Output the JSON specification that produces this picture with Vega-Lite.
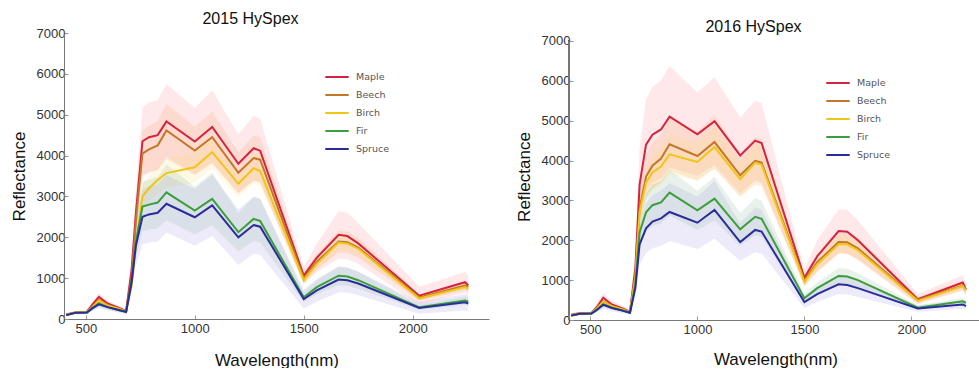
{
  "$schema": "https://vega.github.io/schema/vega-lite/v6.json",
  "padding": {"left": 10, "top": 11, "right": 0, "bottom": 0},
  "background": "white",
  "datasets": {
    "spectra": [
      {"year":2015,"species":"Maple","wavelength":410,"mean":110,"low":89,"high":131},
      {"year":2015,"species":"Maple","wavelength":450,"mean":160,"low":130,"high":190},
      {"year":2015,"species":"Maple","wavelength":505,"mean":180,"low":146,"high":214},
      {"year":2015,"species":"Maple","wavelength":530,"mean":350,"low":283,"high":417},
      {"year":2015,"species":"Maple","wavelength":560,"mean":540,"low":437,"high":643},
      {"year":2015,"species":"Maple","wavelength":600,"mean":380,"low":308,"high":452},
      {"year":2015,"species":"Maple","wavelength":650,"mean":280,"low":227,"high":333},
      {"year":2015,"species":"Maple","wavelength":685,"mean":200,"low":162,"high":238},
      {"year":2015,"species":"Maple","wavelength":710,"mean":1200,"low":972,"high":1428},
      {"year":2015,"species":"Maple","wavelength":730,"mean":2600,"low":2106,"high":3094},
      {"year":2015,"species":"Maple","wavelength":760,"mean":4350,"low":3523,"high":5177},
      {"year":2015,"species":"Maple","wavelength":790,"mean":4450,"low":3604,"high":5296},
      {"year":2015,"species":"Maple","wavelength":830,"mean":4500,"low":3645,"high":5355},
      {"year":2015,"species":"Maple","wavelength":870,"mean":4835,"low":3916,"high":5754},
      {"year":2015,"species":"Maple","wavelength":1000,"mean":4345,"low":3519,"high":5171},
      {"year":2015,"species":"Maple","wavelength":1080,"mean":4700,"low":3807,"high":5593},
      {"year":2015,"species":"Maple","wavelength":1200,"mean":3800,"low":3078,"high":4522},
      {"year":2015,"species":"Maple","wavelength":1270,"mean":4180,"low":3386,"high":4974},
      {"year":2015,"species":"Maple","wavelength":1300,"mean":4120,"low":3337,"high":4903},
      {"year":2015,"species":"Maple","wavelength":1500,"mean":1060,"low":860,"high":1260},
      {"year":2015,"species":"Maple","wavelength":1560,"mean":1500,"low":1150,"high":1850},
      {"year":2015,"species":"Maple","wavelength":1660,"mean":2060,"low":1480,"high":2640},
      {"year":2015,"species":"Maple","wavelength":1700,"mean":2030,"low":1460,"high":2600},
      {"year":2015,"species":"Maple","wavelength":1750,"mean":1850,"low":1350,"high":2350},
      {"year":2015,"species":"Maple","wavelength":2030,"mean":570,"low":350,"high":790},
      {"year":2015,"species":"Maple","wavelength":2240,"mean":900,"low":650,"high":1150},
      {"year":2015,"species":"Maple","wavelength":2255,"mean":820,"low":580,"high":1060},

      {"year":2015,"species":"Beech","wavelength":410,"mean":100,"low":86,"high":114},
      {"year":2015,"species":"Beech","wavelength":450,"mean":155,"low":133,"high":177},
      {"year":2015,"species":"Beech","wavelength":505,"mean":170,"low":146,"high":194},
      {"year":2015,"species":"Beech","wavelength":530,"mean":300,"low":258,"high":342},
      {"year":2015,"species":"Beech","wavelength":560,"mean":470,"low":404,"high":536},
      {"year":2015,"species":"Beech","wavelength":600,"mean":340,"low":292,"high":388},
      {"year":2015,"species":"Beech","wavelength":650,"mean":260,"low":224,"high":296},
      {"year":2015,"species":"Beech","wavelength":685,"mean":190,"low":163,"high":217},
      {"year":2015,"species":"Beech","wavelength":710,"mean":1000,"low":860,"high":1140},
      {"year":2015,"species":"Beech","wavelength":730,"mean":2400,"low":2064,"high":2736},
      {"year":2015,"species":"Beech","wavelength":760,"mean":4050,"low":3483,"high":4617},
      {"year":2015,"species":"Beech","wavelength":790,"mean":4150,"low":3569,"high":4731},
      {"year":2015,"species":"Beech","wavelength":830,"mean":4250,"low":3655,"high":4845},
      {"year":2015,"species":"Beech","wavelength":870,"mean":4615,"low":3969,"high":5261},
      {"year":2015,"species":"Beech","wavelength":1000,"mean":4125,"low":3547,"high":4703},
      {"year":2015,"species":"Beech","wavelength":1080,"mean":4450,"low":3827,"high":5073},
      {"year":2015,"species":"Beech","wavelength":1200,"mean":3580,"low":3079,"high":4081},
      {"year":2015,"species":"Beech","wavelength":1270,"mean":3940,"low":3388,"high":4492},
      {"year":2015,"species":"Beech","wavelength":1300,"mean":3900,"low":3354,"high":4446},
      {"year":2015,"species":"Beech","wavelength":1500,"mean":1000,"low":860,"high":1140},
      {"year":2015,"species":"Beech","wavelength":1560,"mean":1400,"low":1204,"high":1596},
      {"year":2015,"species":"Beech","wavelength":1660,"mean":1895,"low":1630,"high":2160},
      {"year":2015,"species":"Beech","wavelength":1700,"mean":1880,"low":1617,"high":2143},
      {"year":2015,"species":"Beech","wavelength":1750,"mean":1750,"low":1505,"high":1995},
      {"year":2015,"species":"Beech","wavelength":2030,"mean":530,"low":456,"high":604},
      {"year":2015,"species":"Beech","wavelength":2240,"mean":820,"low":705,"high":935},
      {"year":2015,"species":"Beech","wavelength":2255,"mean":780,"low":671,"high":889},

      {"year":2015,"species":"Birch","wavelength":410,"mean":100,"low":90,"high":110},
      {"year":2015,"species":"Birch","wavelength":450,"mean":155,"low":139,"high":171},
      {"year":2015,"species":"Birch","wavelength":505,"mean":170,"low":153,"high":187},
      {"year":2015,"species":"Birch","wavelength":530,"mean":290,"low":261,"high":319},
      {"year":2015,"species":"Birch","wavelength":560,"mean":450,"low":405,"high":495},
      {"year":2015,"species":"Birch","wavelength":600,"mean":330,"low":297,"high":363},
      {"year":2015,"species":"Birch","wavelength":650,"mean":250,"low":225,"high":275},
      {"year":2015,"species":"Birch","wavelength":685,"mean":185,"low":166,"high":204},
      {"year":2015,"species":"Birch","wavelength":710,"mean":800,"low":720,"high":880},
      {"year":2015,"species":"Birch","wavelength":730,"mean":1800,"low":1620,"high":1980},
      {"year":2015,"species":"Birch","wavelength":760,"mean":3000,"low":2700,"high":3300},
      {"year":2015,"species":"Birch","wavelength":790,"mean":3200,"low":2880,"high":3520},
      {"year":2015,"species":"Birch","wavelength":830,"mean":3400,"low":3060,"high":3740},
      {"year":2015,"species":"Birch","wavelength":870,"mean":3570,"low":3213,"high":3927},
      {"year":2015,"species":"Birch","wavelength":1000,"mean":3715,"low":3343,"high":4087},
      {"year":2015,"species":"Birch","wavelength":1080,"mean":4085,"low":3676,"high":4494},
      {"year":2015,"species":"Birch","wavelength":1200,"mean":3310,"low":2979,"high":3641},
      {"year":2015,"species":"Birch","wavelength":1270,"mean":3690,"low":3321,"high":4059},
      {"year":2015,"species":"Birch","wavelength":1300,"mean":3620,"low":3258,"high":3982},
      {"year":2015,"species":"Birch","wavelength":1500,"mean":950,"low":855,"high":1045},
      {"year":2015,"species":"Birch","wavelength":1560,"mean":1350,"low":1215,"high":1485},
      {"year":2015,"species":"Birch","wavelength":1660,"mean":1870,"low":1683,"high":2057},
      {"year":2015,"species":"Birch","wavelength":1700,"mean":1850,"low":1665,"high":2035},
      {"year":2015,"species":"Birch","wavelength":1750,"mean":1720,"low":1548,"high":1892},
      {"year":2015,"species":"Birch","wavelength":2030,"mean":500,"low":450,"high":550},
      {"year":2015,"species":"Birch","wavelength":2240,"mean":780,"low":702,"high":858},
      {"year":2015,"species":"Birch","wavelength":2255,"mean":740,"low":666,"high":814},

      {"year":2015,"species":"Fir","wavelength":410,"mean":95,"low":74,"high":116},
      {"year":2015,"species":"Fir","wavelength":450,"mean":150,"low":117,"high":183},
      {"year":2015,"species":"Fir","wavelength":505,"mean":160,"low":125,"high":195},
      {"year":2015,"species":"Fir","wavelength":530,"mean":270,"low":211,"high":329},
      {"year":2015,"species":"Fir","wavelength":560,"mean":380,"low":296,"high":464},
      {"year":2015,"species":"Fir","wavelength":600,"mean":290,"low":226,"high":354},
      {"year":2015,"species":"Fir","wavelength":650,"mean":220,"low":172,"high":268},
      {"year":2015,"species":"Fir","wavelength":685,"mean":170,"low":133,"high":207},
      {"year":2015,"species":"Fir","wavelength":710,"mean":900,"low":702,"high":1098},
      {"year":2015,"species":"Fir","wavelength":730,"mean":1900,"low":1482,"high":2318},
      {"year":2015,"species":"Fir","wavelength":760,"mean":2750,"low":2145,"high":3355},
      {"year":2015,"species":"Fir","wavelength":790,"mean":2800,"low":2184,"high":3416},
      {"year":2015,"species":"Fir","wavelength":830,"mean":2850,"low":2223,"high":3477},
      {"year":2015,"species":"Fir","wavelength":870,"mean":3100,"low":2418,"high":3782},
      {"year":2015,"species":"Fir","wavelength":1000,"mean":2655,"low":2071,"high":3239},
      {"year":2015,"species":"Fir","wavelength":1080,"mean":2940,"low":2293,"high":3587},
      {"year":2015,"species":"Fir","wavelength":1200,"mean":2125,"low":1657,"high":2593},
      {"year":2015,"species":"Fir","wavelength":1270,"mean":2450,"low":1911,"high":2989},
      {"year":2015,"species":"Fir","wavelength":1300,"mean":2400,"low":1872,"high":2928},
      {"year":2015,"species":"Fir","wavelength":1500,"mean":530,"low":413,"high":647},
      {"year":2015,"species":"Fir","wavelength":1560,"mean":780,"low":608,"high":952},
      {"year":2015,"species":"Fir","wavelength":1660,"mean":1060,"low":827,"high":1293},
      {"year":2015,"species":"Fir","wavelength":1700,"mean":1040,"low":811,"high":1269},
      {"year":2015,"species":"Fir","wavelength":1750,"mean":950,"low":741,"high":1159},
      {"year":2015,"species":"Fir","wavelength":2030,"mean":285,"low":222,"high":348},
      {"year":2015,"species":"Fir","wavelength":2240,"mean":450,"low":351,"high":549},
      {"year":2015,"species":"Fir","wavelength":2255,"mean":430,"low":335,"high":525},

      {"year":2015,"species":"Spruce","wavelength":410,"mean":95,"low":69,"high":121},
      {"year":2015,"species":"Spruce","wavelength":450,"mean":150,"low":110,"high":190},
      {"year":2015,"species":"Spruce","wavelength":505,"mean":160,"low":117,"high":203},
      {"year":2015,"species":"Spruce","wavelength":530,"mean":260,"low":190,"high":330},
      {"year":2015,"species":"Spruce","wavelength":560,"mean":360,"low":263,"high":457},
      {"year":2015,"species":"Spruce","wavelength":600,"mean":290,"low":212,"high":368},
      {"year":2015,"species":"Spruce","wavelength":650,"mean":220,"low":161,"high":279},
      {"year":2015,"species":"Spruce","wavelength":685,"mean":175,"low":128,"high":222},
      {"year":2015,"species":"Spruce","wavelength":710,"mean":900,"low":657,"high":1143},
      {"year":2015,"species":"Spruce","wavelength":730,"mean":1800,"low":1314,"high":2286},
      {"year":2015,"species":"Spruce","wavelength":760,"mean":2500,"low":1825,"high":3175},
      {"year":2015,"species":"Spruce","wavelength":790,"mean":2560,"low":1869,"high":3251},
      {"year":2015,"species":"Spruce","wavelength":830,"mean":2600,"low":1898,"high":3302},
      {"year":2015,"species":"Spruce","wavelength":870,"mean":2820,"low":2120,"high":3520},
      {"year":2015,"species":"Spruce","wavelength":1000,"mean":2490,"low":1790,"high":3190},
      {"year":2015,"species":"Spruce","wavelength":1080,"mean":2780,"low":2030,"high":3530},
      {"year":2015,"species":"Spruce","wavelength":1200,"mean":2000,"low":1320,"high":2680},
      {"year":2015,"species":"Spruce","wavelength":1270,"mean":2300,"low":1600,"high":3000},
      {"year":2015,"species":"Spruce","wavelength":1300,"mean":2260,"low":1570,"high":2950},
      {"year":2015,"species":"Spruce","wavelength":1500,"mean":490,"low":260,"high":720},
      {"year":2015,"species":"Spruce","wavelength":1560,"mean":700,"low":420,"high":980},
      {"year":2015,"species":"Spruce","wavelength":1660,"mean":965,"low":655,"high":1275},
      {"year":2015,"species":"Spruce","wavelength":1700,"mean":950,"low":650,"high":1250},
      {"year":2015,"species":"Spruce","wavelength":1750,"mean":870,"low":580,"high":1160},
      {"year":2015,"species":"Spruce","wavelength":2030,"mean":270,"low":130,"high":410},
      {"year":2015,"species":"Spruce","wavelength":2240,"mean":410,"low":210,"high":610},
      {"year":2015,"species":"Spruce","wavelength":2255,"mean":380,"low":190,"high":570},

      {"year":2016,"species":"Maple","wavelength":410,"mean":130,"low":100,"high":160},
      {"year":2016,"species":"Maple","wavelength":450,"mean":170,"low":130,"high":210},
      {"year":2016,"species":"Maple","wavelength":505,"mean":175,"low":135,"high":215},
      {"year":2016,"species":"Maple","wavelength":530,"mean":320,"low":245,"high":395},
      {"year":2016,"species":"Maple","wavelength":560,"mean":560,"low":430,"high":690},
      {"year":2016,"species":"Maple","wavelength":600,"mean":390,"low":300,"high":480},
      {"year":2016,"species":"Maple","wavelength":650,"mean":290,"low":225,"high":355},
      {"year":2016,"species":"Maple","wavelength":685,"mean":210,"low":160,"high":260},
      {"year":2016,"species":"Maple","wavelength":710,"mean":1300,"low":1000,"high":1600},
      {"year":2016,"species":"Maple","wavelength":730,"mean":3400,"low":2500,"high":4300},
      {"year":2016,"species":"Maple","wavelength":760,"mean":4400,"low":3270,"high":5530},
      {"year":2016,"species":"Maple","wavelength":790,"mean":4650,"low":3450,"high":5850},
      {"year":2016,"species":"Maple","wavelength":830,"mean":4780,"low":3550,"high":6010},
      {"year":2016,"species":"Maple","wavelength":870,"mean":5100,"low":3830,"high":6370},
      {"year":2016,"species":"Maple","wavelength":1000,"mean":4660,"low":3610,"high":5710},
      {"year":2016,"species":"Maple","wavelength":1080,"mean":4990,"low":3890,"high":6090},
      {"year":2016,"species":"Maple","wavelength":1200,"mean":4130,"low":3180,"high":5080},
      {"year":2016,"species":"Maple","wavelength":1270,"mean":4500,"low":3500,"high":5500},
      {"year":2016,"species":"Maple","wavelength":1300,"mean":4440,"low":3440,"high":5440},
      {"year":2016,"species":"Maple","wavelength":1500,"mean":1060,"low":860,"high":1260},
      {"year":2016,"species":"Maple","wavelength":1560,"mean":1600,"low":1200,"high":2000},
      {"year":2016,"species":"Maple","wavelength":1660,"mean":2230,"low":1680,"high":2780},
      {"year":2016,"species":"Maple","wavelength":1700,"mean":2215,"low":1665,"high":2765},
      {"year":2016,"species":"Maple","wavelength":1750,"mean":2000,"low":1500,"high":2500},
      {"year":2016,"species":"Maple","wavelength":2030,"mean":520,"low":390,"high":650},
      {"year":2016,"species":"Maple","wavelength":2240,"mean":940,"low":760,"high":1120},
      {"year":2016,"species":"Maple","wavelength":2255,"mean":770,"low":610,"high":930},

      {"year":2016,"species":"Beech","wavelength":410,"mean":120,"low":102,"high":138},
      {"year":2016,"species":"Beech","wavelength":450,"mean":165,"low":140,"high":190},
      {"year":2016,"species":"Beech","wavelength":505,"mean":170,"low":144,"high":196},
      {"year":2016,"species":"Beech","wavelength":530,"mean":290,"low":246,"high":334},
      {"year":2016,"species":"Beech","wavelength":560,"mean":470,"low":400,"high":540},
      {"year":2016,"species":"Beech","wavelength":600,"mean":350,"low":297,"high":403},
      {"year":2016,"species":"Beech","wavelength":650,"mean":270,"low":230,"high":310},
      {"year":2016,"species":"Beech","wavelength":685,"mean":200,"low":170,"high":230},
      {"year":2016,"species":"Beech","wavelength":710,"mean":1100,"low":935,"high":1265},
      {"year":2016,"species":"Beech","wavelength":730,"mean":2800,"low":2380,"high":3220},
      {"year":2016,"species":"Beech","wavelength":760,"mean":3600,"low":3060,"high":4140},
      {"year":2016,"species":"Beech","wavelength":790,"mean":3870,"low":3290,"high":4450},
      {"year":2016,"species":"Beech","wavelength":830,"mean":4050,"low":3442,"high":4658},
      {"year":2016,"species":"Beech","wavelength":870,"mean":4410,"low":3748,"high":5072},
      {"year":2016,"species":"Beech","wavelength":1000,"mean":4115,"low":3498,"high":4732},
      {"year":2016,"species":"Beech","wavelength":1080,"mean":4465,"low":3795,"high":5135},
      {"year":2016,"species":"Beech","wavelength":1200,"mean":3630,"low":3085,"high":4175},
      {"year":2016,"species":"Beech","wavelength":1270,"mean":3990,"low":3391,"high":4589},
      {"year":2016,"species":"Beech","wavelength":1300,"mean":3950,"low":3357,"high":4543},
      {"year":2016,"species":"Beech","wavelength":1500,"mean":1000,"low":850,"high":1150},
      {"year":2016,"species":"Beech","wavelength":1560,"mean":1450,"low":1232,"high":1668},
      {"year":2016,"species":"Beech","wavelength":1660,"mean":1955,"low":1662,"high":2248},
      {"year":2016,"species":"Beech","wavelength":1700,"mean":1950,"low":1657,"high":2243},
      {"year":2016,"species":"Beech","wavelength":1750,"mean":1800,"low":1530,"high":2070},
      {"year":2016,"species":"Beech","wavelength":2030,"mean":500,"low":425,"high":575},
      {"year":2016,"species":"Beech","wavelength":2240,"mean":860,"low":731,"high":989},
      {"year":2016,"species":"Beech","wavelength":2255,"mean":770,"low":654,"high":886},

      {"year":2016,"species":"Birch","wavelength":410,"mean":120,"low":106,"high":134},
      {"year":2016,"species":"Birch","wavelength":450,"mean":165,"low":145,"high":185},
      {"year":2016,"species":"Birch","wavelength":505,"mean":170,"low":150,"high":190},
      {"year":2016,"species":"Birch","wavelength":530,"mean":285,"low":251,"high":319},
      {"year":2016,"species":"Birch","wavelength":560,"mean":460,"low":405,"high":515},
      {"year":2016,"species":"Birch","wavelength":600,"mean":345,"low":304,"high":386},
      {"year":2016,"species":"Birch","wavelength":650,"mean":265,"low":233,"high":297},
      {"year":2016,"species":"Birch","wavelength":685,"mean":195,"low":172,"high":218},
      {"year":2016,"species":"Birch","wavelength":710,"mean":1050,"low":924,"high":1176},
      {"year":2016,"species":"Birch","wavelength":730,"mean":2700,"low":2376,"high":3024},
      {"year":2016,"species":"Birch","wavelength":760,"mean":3450,"low":3036,"high":3864},
      {"year":2016,"species":"Birch","wavelength":790,"mean":3700,"low":3256,"high":4144},
      {"year":2016,"species":"Birch","wavelength":830,"mean":3850,"low":3388,"high":4312},
      {"year":2016,"species":"Birch","wavelength":870,"mean":4155,"low":3656,"high":4654},
      {"year":2016,"species":"Birch","wavelength":1000,"mean":3965,"low":3489,"high":4441},
      {"year":2016,"species":"Birch","wavelength":1080,"mean":4340,"low":3819,"high":4861},
      {"year":2016,"species":"Birch","wavelength":1200,"mean":3530,"low":3106,"high":3954},
      {"year":2016,"species":"Birch","wavelength":1270,"mean":3950,"low":3476,"high":4424},
      {"year":2016,"species":"Birch","wavelength":1300,"mean":3900,"low":3432,"high":4368},
      {"year":2016,"species":"Birch","wavelength":1500,"mean":950,"low":836,"high":1064},
      {"year":2016,"species":"Birch","wavelength":1560,"mean":1400,"low":1232,"high":1568},
      {"year":2016,"species":"Birch","wavelength":1660,"mean":1900,"low":1672,"high":2128},
      {"year":2016,"species":"Birch","wavelength":1700,"mean":1900,"low":1672,"high":2128},
      {"year":2016,"species":"Birch","wavelength":1750,"mean":1750,"low":1540,"high":1960},
      {"year":2016,"species":"Birch","wavelength":2030,"mean":480,"low":422,"high":538},
      {"year":2016,"species":"Birch","wavelength":2240,"mean":850,"low":748,"high":952},
      {"year":2016,"species":"Birch","wavelength":2255,"mean":740,"low":651,"high":829},

      {"year":2016,"species":"Fir","wavelength":410,"mean":110,"low":90,"high":130},
      {"year":2016,"species":"Fir","wavelength":450,"mean":155,"low":127,"high":183},
      {"year":2016,"species":"Fir","wavelength":505,"mean":160,"low":131,"high":189},
      {"year":2016,"species":"Fir","wavelength":530,"mean":260,"low":213,"high":307},
      {"year":2016,"species":"Fir","wavelength":560,"mean":400,"low":328,"high":472},
      {"year":2016,"species":"Fir","wavelength":600,"mean":310,"low":254,"high":366},
      {"year":2016,"species":"Fir","wavelength":650,"mean":240,"low":197,"high":283},
      {"year":2016,"species":"Fir","wavelength":685,"mean":180,"low":148,"high":212},
      {"year":2016,"species":"Fir","wavelength":710,"mean":900,"low":738,"high":1062},
      {"year":2016,"species":"Fir","wavelength":730,"mean":2200,"low":1804,"high":2596},
      {"year":2016,"species":"Fir","wavelength":760,"mean":2700,"low":2214,"high":3186},
      {"year":2016,"species":"Fir","wavelength":790,"mean":2880,"low":2362,"high":3398},
      {"year":2016,"species":"Fir","wavelength":830,"mean":2950,"low":2419,"high":3481},
      {"year":2016,"species":"Fir","wavelength":870,"mean":3195,"low":2620,"high":3770},
      {"year":2016,"species":"Fir","wavelength":1000,"mean":2750,"low":2255,"high":3245},
      {"year":2016,"species":"Fir","wavelength":1080,"mean":3045,"low":2497,"high":3593},
      {"year":2016,"species":"Fir","wavelength":1200,"mean":2275,"low":1865,"high":2685},
      {"year":2016,"species":"Fir","wavelength":1270,"mean":2590,"low":2124,"high":3056},
      {"year":2016,"species":"Fir","wavelength":1300,"mean":2540,"low":2083,"high":2997},
      {"year":2016,"species":"Fir","wavelength":1500,"mean":545,"low":447,"high":643},
      {"year":2016,"species":"Fir","wavelength":1560,"mean":800,"low":656,"high":944},
      {"year":2016,"species":"Fir","wavelength":1660,"mean":1105,"low":906,"high":1304},
      {"year":2016,"species":"Fir","wavelength":1700,"mean":1090,"low":894,"high":1286},
      {"year":2016,"species":"Fir","wavelength":1750,"mean":1000,"low":820,"high":1180},
      {"year":2016,"species":"Fir","wavelength":2030,"mean":310,"low":254,"high":366},
      {"year":2016,"species":"Fir","wavelength":2240,"mean":470,"low":385,"high":555},
      {"year":2016,"species":"Fir","wavelength":2255,"mean":430,"low":353,"high":507},

      {"year":2016,"species":"Spruce","wavelength":410,"mean":110,"low":80,"high":140},
      {"year":2016,"species":"Spruce","wavelength":450,"mean":155,"low":115,"high":195},
      {"year":2016,"species":"Spruce","wavelength":505,"mean":160,"low":117,"high":203},
      {"year":2016,"species":"Spruce","wavelength":530,"mean":250,"low":182,"high":318},
      {"year":2016,"species":"Spruce","wavelength":560,"mean":380,"low":280,"high":480},
      {"year":2016,"species":"Spruce","wavelength":600,"mean":300,"low":220,"high":380},
      {"year":2016,"species":"Spruce","wavelength":650,"mean":235,"low":172,"high":298},
      {"year":2016,"species":"Spruce","wavelength":685,"mean":180,"low":132,"high":228},
      {"year":2016,"species":"Spruce","wavelength":710,"mean":800,"low":584,"high":1016},
      {"year":2016,"species":"Spruce","wavelength":730,"mean":1900,"low":1387,"high":2413},
      {"year":2016,"species":"Spruce","wavelength":760,"mean":2300,"low":1680,"high":2920},
      {"year":2016,"species":"Spruce","wavelength":790,"mean":2470,"low":1803,"high":3137},
      {"year":2016,"species":"Spruce","wavelength":830,"mean":2550,"low":1860,"high":3240},
      {"year":2016,"species":"Spruce","wavelength":870,"mean":2710,"low":1980,"high":3440},
      {"year":2016,"species":"Spruce","wavelength":1000,"mean":2440,"low":1780,"high":3100},
      {"year":2016,"species":"Spruce","wavelength":1080,"mean":2760,"low":2040,"high":3480},
      {"year":2016,"species":"Spruce","wavelength":1200,"mean":1955,"low":1485,"high":2425},
      {"year":2016,"species":"Spruce","wavelength":1270,"mean":2260,"low":1700,"high":2820},
      {"year":2016,"species":"Spruce","wavelength":1300,"mean":2220,"low":1670,"high":2770},
      {"year":2016,"species":"Spruce","wavelength":1500,"mean":450,"low":300,"high":600},
      {"year":2016,"species":"Spruce","wavelength":1560,"mean":650,"low":460,"high":840},
      {"year":2016,"species":"Spruce","wavelength":1660,"mean":895,"low":650,"high":1140},
      {"year":2016,"species":"Spruce","wavelength":1700,"mean":880,"low":640,"high":1120},
      {"year":2016,"species":"Spruce","wavelength":1750,"mean":800,"low":580,"high":1020},
      {"year":2016,"species":"Spruce","wavelength":2030,"mean":290,"low":210,"high":370},
      {"year":2016,"species":"Spruce","wavelength":2240,"mean":390,"low":280,"high":500},
      {"year":2016,"species":"Spruce","wavelength":2255,"mean":350,"low":250,"high":450}
    ]
  },
  "data": {"name": "spectra"},
  "config": {
    "view": {"stroke": null},
    "font": "Liberation Sans",
    "axis": {
      "grid": false,
      "domainColor": "#777",
      "tickColor": "#999",
      "tickSize": -4,
      "labelFont": "Liberation Sans",
      "labelFontSize": 13,
      "labelColor": "#333",
      "labelOverlap": false,
      "titleFont": "Liberation Sans",
      "titleFontSize": 17,
      "titleFontWeight": "normal",
      "titleColor": "#111"
    },
    "legend": {
      "labelFont": "DejaVu Sans",
      "labelFontSize": 9.5,
      "labelColor": "#555",
      "symbolType": "stroke",
      "symbolStrokeWidth": 2,
      "symbolSize": 550,
      "symbolOpacity": 1,
      "rowPadding": 0,
      "labelOffset": 6,
      "padding": 0
    },
    "title": {"font": "Liberation Sans", "fontSize": 16, "fontWeight": "normal", "color": "#111", "frame": "group"}
  },
  "spacing": 26,
  "resolve": {
    "scale": {"x": "independent", "y": "independent", "fill": "independent", "color": "independent"},
    "legend": {"color": "independent", "fill": "independent"}
  },
  "hconcat": [
    {
      "title": {"text": "2015 HySpex", "dx": -26, "offset": 0},
      "width": 425,
      "height": 286,
      "transform": [{"filter": "datum.year == 2015"}],
      "encoding": {
        "x": {"field": "wavelength", "type": "quantitative", "scale": {"domain": [400, 2350], "nice": false}, "axis": {"values": [500, 1000, 1500, 2000], "format": "d", "title": "Wavelength(nm)", "labelPadding": 7, "titlePadding": 17}}
      },
      "layer": [
        {
          "mark": {"type": "area", "opacity": 0.18},
          "encoding": {
            "y": {"field": "low", "type": "quantitative", "scale": {"domain": [0, 7000], "nice": false}, "axis": {"values": [0, 1000, 2000, 3000, 4000, 5000, 6000, 7000], "format": "d", "title": "Reflectance", "labelPadding": 3, "titlePadding": 8}},
            "y2": {"field": "high"},
            "color": {"field": "species", "type": "nominal", "scale": {"domain": ["Maple", "Beech", "Birch", "Fir", "Spruce"], "range": ["#ff7f8c", "#f59a5a", "#f2de6e", "#7fb58a", "#9b8fe0"]}, "legend": null}
          }
        },
        {
          "mark": {"type": "line", "strokeWidth": 2},
          "encoding": {
            "y": {"field": "mean", "type": "quantitative", "axis": {"values": [0, 1000, 2000, 3000, 4000, 5000, 6000, 7000], "format": "d", "title": "Reflectance", "labelPadding": 3, "titlePadding": 8}},
            "stroke": {"field": "species", "type": "nominal", "scale": {"domain": ["Maple", "Beech", "Birch", "Fir", "Spruce"], "range": ["#d4233f", "#c4772a", "#f0c514", "#3a9e3a", "#2a2c9c"]}, "legend": {"title": null, "orient": "none", "legendX": 260, "legendY": 31, "symbolType": "stroke", "symbolStrokeWidth": 2}}
          }
        }
      ],
      "resolve": {"scale": {"color": "independent", "stroke": "independent"}, "legend": {"color": "independent", "stroke": "independent"}}
    },
    {
      "title": {"text": "2016 HySpex", "dx": -22, "offset": -2},
      "width": 413,
      "height": 287,
      "transform": [{"filter": "datum.year == 2016"}],
      "encoding": {
        "x": {"field": "wavelength", "type": "quantitative", "scale": {"domain": [400, 2330], "nice": false}, "axis": {"values": [500, 1000, 1500, 2000], "format": "d", "title": "Wavelength(nm)", "labelPadding": 7, "titlePadding": 15}}
      },
      "layer": [
        {
          "mark": {"type": "rule", "color": "#777", "strokeWidth": 1},
          "encoding": {
            "x": {"datum": 400},
            "y": {"datum": 0, "type": "quantitative"},
            "y2": {"datum": 7000}
          }
        },
        {
          "mark": {"type": "area", "opacity": 0.18},
          "encoding": {
            "y": {"field": "low", "type": "quantitative", "scale": {"domain": [0, 7200], "nice": false}, "axis": {"values": [0, 1000, 2000, 3000, 4000, 5000, 6000, 7000], "format": "d", "domain": false, "title": "Reflectance", "labelPadding": 3, "titlePadding": 8}},
            "y2": {"field": "high"},
            "color": {"field": "species", "type": "nominal", "scale": {"domain": ["Maple", "Beech", "Birch", "Fir", "Spruce"], "range": ["#ff7f8c", "#f59a5a", "#f2de6e", "#7fb58a", "#9b8fe0"]}, "legend": null}
          }
        },
        {
          "mark": {"type": "line", "strokeWidth": 2},
          "encoding": {
            "y": {"field": "mean", "type": "quantitative", "axis": {"values": [0, 1000, 2000, 3000, 4000, 5000, 6000, 7000], "format": "d", "domain": false, "title": "Reflectance", "labelPadding": 3, "titlePadding": 8}},
            "stroke": {"field": "species", "type": "nominal", "scale": {"domain": ["Maple", "Beech", "Birch", "Fir", "Spruce"], "range": ["#d4233f", "#c4772a", "#f0c514", "#3a9e3a", "#2a2c9c"]}, "legend": {"title": null, "orient": "none", "legendX": 256, "legendY": 37, "symbolType": "stroke", "symbolStrokeWidth": 2}}
          }
        }
      ],
      "resolve": {"scale": {"color": "independent", "stroke": "independent"}, "legend": {"color": "independent", "stroke": "independent"}}
    }
  ]
}
